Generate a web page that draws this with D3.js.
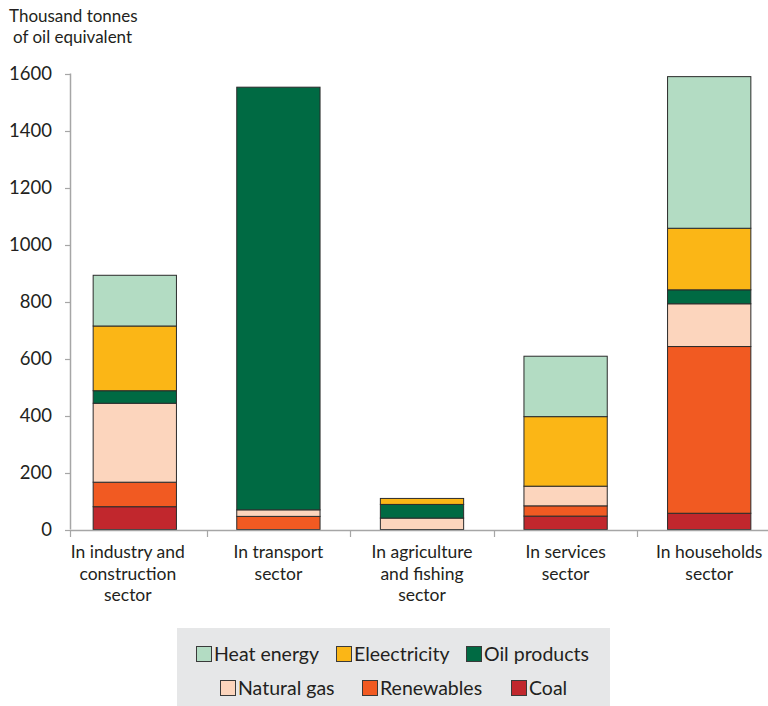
<!DOCTYPE html>
<html>
<head>
<meta charset="utf-8">
<script src="https://cdn.jsdelivr.net/npm/d3@7"></script>
<style>
  html, body { margin: 0; padding: 0; background: #fff; }
  svg { display: block; font-family: "Lato", "Open Sans", sans-serif; }
</style>
</head>
<body>
<svg id="chart" width="768" height="706"></svg>
<script>
// Final energy consumption by sector and fuel, thousand tonnes of oil equivalent
const categories = [
  ["In industry and", "construction", "sector"],
  ["In transport", "sector"],
  ["In agriculture", "and fishing", "sector"],
  ["In services", "sector"],
  ["In households", "sector"]
];
const coal        = [80, 0, 0, 47, 57];
const renewables  = [86, 46, 0, 36, 585];
const naturalGas  = [277, 23, 40, 69, 150];
const oilProducts = [44, 1483, 48, 0, 49];
const electricity = [227, 0, 21, 244, 216];
const heatEnergy  = [178, 0, 0, 212, 532];
const yTicks = [0, 200, 400, 600, 800, 1000, 1200, 1400, 1600];

// stacking order bottom -> top
const series = [
  { name: "Coal",         values: coal,        color: "#c1272d" },
  { name: "Renewables",   values: renewables,  color: "#f15a22" },
  { name: "Natural gas",  values: naturalGas,  color: "#fcd5bd" },
  { name: "Oil products", values: oilProducts, color: "#006a43" },
  { name: "Eleectricity", values: electricity, color: "#fbb616" },
  { name: "Heat energy",  values: heatEnergy,  color: "#b3dcc3" }
];

const svg = d3.select("#chart");
const axisColor = "#a6a6a6";
const textColor = "#231f20";

const x = d3.scaleBand()
  .domain(d3.range(categories.length))
  .range([63, 781])
  .paddingInner(0.42)
  .paddingOuter(0.21);
const step = x.step();
const y = d3.scaleLinear().domain([0, 1600]).range([529.5, 73.5]);

// axis title
svg.append("text").attr("x", 9).attr("y", 22).attr("font-size", 17).attr("fill", textColor).text("Thousand tonnes");
svg.append("text").attr("x", 13).attr("y", 43).attr("font-size", 17).attr("fill", textColor).text("of oil equivalent");

// y axis
const yAxis = svg.append("g");
yAxis.append("line")
  .attr("x1", 70.5).attr("x2", 70.5)
  .attr("y1", y(1600)).attr("y2", y(0))
  .attr("stroke", axisColor).attr("stroke-width", 1.5);
yAxis.selectAll("line.tick").data(yTicks).join("line")
  .attr("class", "tick")
  .attr("x1", 65).attr("x2", 70.5)
  .attr("y1", d => Math.round(y(d)) + 0.5).attr("y2", d => Math.round(y(d)) + 0.5)
  .attr("stroke", axisColor).attr("stroke-width", 1.2);
yAxis.selectAll("text").data(yTicks).join("text")
  .attr("x", 52).attr("y", d => y(d))
  .attr("dy", "0.35em")
  .attr("text-anchor", "end")
  .attr("font-size", 18.5)
  .attr("fill", textColor)
  .text(d => d);

// stacked bars
const stackData = categories.map((c, i) => {
  const row = { i };
  series.forEach(s => { row[s.name] = s.values[i]; });
  return row;
});
const stack = d3.stack().keys(series.map(s => s.name))(stackData);
const layers = svg.append("g").selectAll("g").data(stack).join("g")
  .attr("fill", (d, k) => series[k].color);
layers.selectAll("rect").data(d => d.filter(p => p[1] - p[0] > 0)).join("rect")
  .attr("x", p => x(p.data.i))
  .attr("width", x.bandwidth())
  .attr("y", p => y(p[1]))
  .attr("height", p => y(p[0]) - y(p[1]))
  .attr("stroke", "#2b2b2b")
  .attr("stroke-width", 1);

// x axis
const xAxis = svg.append("g");
xAxis.append("line")
  .attr("x1", 70).attr("x2", 768)
  .attr("y1", 530.5).attr("y2", 530.5)
  .attr("stroke", axisColor).attr("stroke-width", 1.5);
const boundaries = d3.range(1, categories.length).map(i => x(i) - x.paddingInner() * step / 2);
xAxis.selectAll("line.tick").data([70.5].concat(boundaries.map(b => Math.round(b) + 0.5))).join("line")
  .attr("class", "tick")
  .attr("x1", d => d).attr("x2", d => d)
  .attr("y1", 530).attr("y2", 537)
  .attr("stroke", axisColor).attr("stroke-width", 1.2);
const labels = xAxis.selectAll("text").data(categories).join("text")
  .attr("text-anchor", "middle")
  .attr("font-size", 17.5)
  .attr("fill", textColor)
  .attr("transform", (d, i) => `translate(${x(i) + x.bandwidth() / 2 - (i === 0 ? 7 : 0)},0)`);
labels.selectAll("tspan").data(d => d).join("tspan")
  .attr("x", 0)
  .attr("y", (d, j) => 558 + j * 21.5)
  .text(d => d);

// legend
const legend = svg.append("g");
legend.append("rect")
  .attr("x", 177).attr("y", 628).attr("width", 433).attr("height", 78)
  .attr("fill", "#e6e7e8");
const legendItems = [
  { s: series[5], x: 196, y: 654 },
  { s: series[4], x: 336, y: 654 },
  { s: series[3], x: 466, y: 654 },
  { s: series[2], x: 220, y: 688 },
  { s: series[1], x: 362, y: 688 },
  { s: series[0], x: 511, y: 688 }
];
const li = legend.selectAll("g").data(legendItems).join("g")
  .attr("transform", d => `translate(${d.x},${d.y})`);
li.append("rect")
  .attr("x", 0.5).attr("y", -7.5).attr("width", 15).attr("height", 15)
  .attr("fill", d => d.s.color)
  .attr("stroke", "#3a3a3a").attr("stroke-width", 1);
li.append("text")
  .attr("x", 18).attr("y", 0).attr("dy", "0.36em")
  .attr("font-size", 19.5)
  .attr("fill", textColor)
  .text(d => d.s.name);
</script>
</body>
</html>
